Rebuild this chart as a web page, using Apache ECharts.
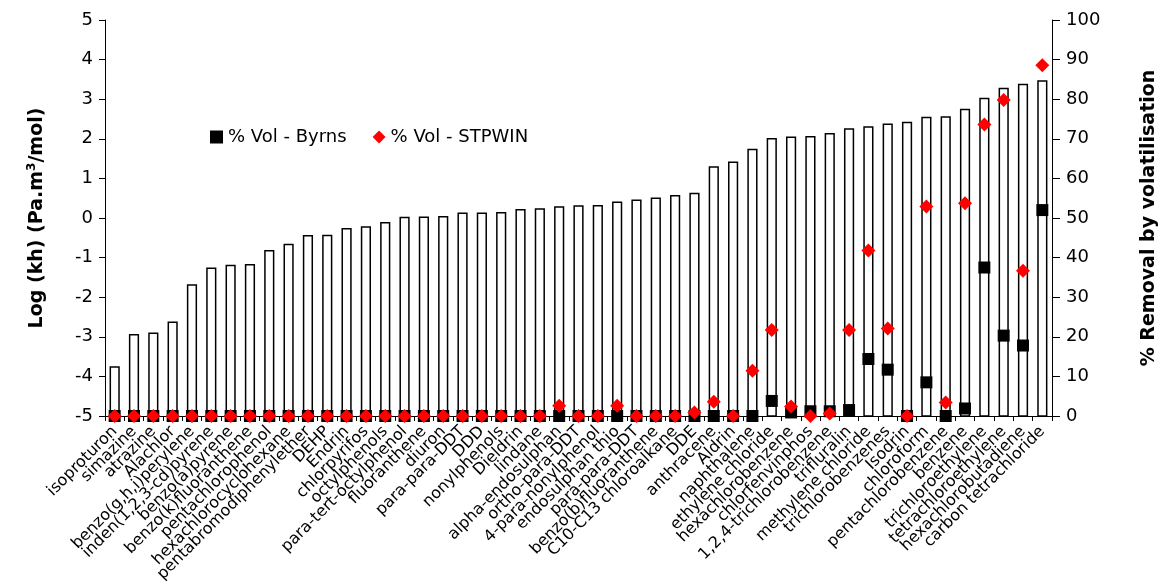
<!DOCTYPE html>
<html>
<head>
<meta charset="utf-8">
<script src="https://cdn.jsdelivr.net/npm/echarts@6/dist/echarts.min.js"></script>
<style>
  html, body { margin: 0; padding: 0; background: #fff; }
  #chart { width: 1167px; height: 587px; }
</style>
</head>
<body>
<div id="chart"></div>
<script>
// Substances, ordered by Henry's law constant
const substances = [
  'isoproturon', 'simazine', 'atrazine', 'Alachlor', 'benzo(g,h,i)perylene',
  'inden(1,2,3-cd)pyrene', 'benzo(a)pyrene', 'benzo(k)fluoranthene', 'pentachlorophenol',
  'hexachlorocyclohexane', 'pentabromodiphenylether', 'DEHP', 'Endrin', 'chlorpyrifos',
  'octylphenols', 'para-tert-octylphenol', 'fluoranthene', 'diuron', 'para-para-DDT',
  'DDD', 'nonylphenols', 'Dieldrin', 'lindane', 'alpha-endosulphan', 'ortho-para-DDT',
  '4-para-nonylphenol', 'endosulphan thio', 'para-para-DDT', 'benzo(b)fluoranthene',
  'C10-C13 chloroalkane', 'DDE', 'anthracene', 'Aldrin', 'naphthalene',
  'ethylene chloride', 'hexachlorobenzene', 'chlorfenvinphos', '1,2,4-trichlorobenzene',
  'trifluralin', 'methylene chloride', 'trichlorobenzenes', 'Isodrin', 'chloroform',
  'pentachlorobenzene', 'benzene', 'trichloroethylene', 'tetrachloroethylene',
  'hexachlorobutadiene', 'carbon tetrachloride'
];

// Log (kh) in Pa.m3/mol
const logKh = [
  -3.76, -2.95, -2.91, -2.63, -1.69, -1.27, -1.20, -1.18, -0.83, -0.67,
  -0.45, -0.44, -0.27, -0.23, -0.12, 0.01, 0.02, 0.03, 0.12, 0.12,
  0.13, 0.21, 0.23, 0.28, 0.30, 0.31, 0.40, 0.45, 0.50, 0.56,
  0.62, 1.29, 1.41, 1.73, 2.00, 2.04, 2.05, 2.13, 2.25, 2.30,
  2.37, 2.41, 2.54, 2.55, 2.74, 3.02, 3.27, 3.37, 3.46
];

// % removal by volatilisation, Byrns model
const volByrns = [
  0, 0, 0, 0, 0, 0, 0, 0, 0, 0,
  0, 0, 0, 0, 0, 0, 0, 0, 0, 0,
  0, 0, 0, 0, 0, 0, 0, 0, 0, 0,
  0, 0, 0, 0, 3.8, 0.9, 1.2, 1.2, 1.5, 14.4,
  11.7, 0, 8.5, 0, 1.9, 37.5, 20.3, 17.8, 52.0
];

// % removal by volatilisation, STPWIN model
const volStpwin = [
  0, 0, 0, 0, 0, 0, 0, 0, 0, 0,
  0, 0, 0, 0, 0, 0, 0, 0, 0, 0,
  0, 0, 0, 2.6, 0, 0, 2.6, 0, 0, 0,
  0.9, 3.6, 0, 11.4, 21.7, 2.4, 0, 0.6, 21.7, 41.8,
  22.1, 0, 52.9, 3.4, 53.7, 73.6, 79.8, 36.7, 88.6
];

// Left axis scale
const LOG_MIN = -5, LOG_MAX = 5, LOG_STEP = 1;
// Right axis scale
const PCT_MIN = 0, PCT_MAX = 100, PCT_STEP = 10;

const FONT = 'DejaVu Sans';

const chart = echarts.init(document.getElementById('chart'), null, { renderer: 'canvas' });

chart.setOption({
  animation: false,
  backgroundColor: '#ffffff',
  textStyle: { fontFamily: FONT, color: '#000' },
  grid: { left: 105, right: 114, top: 20, bottom: 171, containLabel: false },
  legend: {
    left: 205,
    top: 123,
    itemWidth: 13,
    itemHeight: 13,
    itemGap: 26,
    textStyle: { fontFamily: FONT, fontSize: 18, color: '#000' },
    data: [
      { name: '% Vol - Byrns', icon: 'rect' },
      { name: '% Vol - STPWIN', icon: 'diamond' }
    ]
  },
  xAxis: {
    type: 'category',
    data: substances,
    boundaryGap: true,
    axisLine: { show: true, onZero: false, lineStyle: { color: '#000', width: 1 } },
    axisTick: { show: true, alignWithLabel: false, length: 5, lineStyle: { color: '#000' } },
    axisLabel: {
      interval: 0,
      rotate: 45,
      margin: 13,
      fontFamily: FONT,
      fontSize: 16,
      color: '#000'
    },
    splitLine: { show: false }
  },
  yAxis: [
    {
      type: 'value',
      min: LOG_MIN,
      max: LOG_MAX,
      interval: LOG_STEP,
      position: 'left',
      name: '{t|Log (kh) (Pa.m}{s|3}{t|/mol)}',
      nameLocation: 'middle',
      nameGap: 56,
      nameRotate: 90,
      nameTextStyle: {
        rich: {
          t: { fontFamily: FONT, fontSize: 19, fontWeight: 'bold', color: '#000', lineHeight: 23 },
          s: { fontFamily: FONT, fontSize: 12, fontWeight: 'bold', color: '#000', verticalAlign: 'top', lineHeight: 23 }
        }
      },
      axisLine: { show: true, lineStyle: { color: '#000', width: 1 } },
      axisTick: { show: true, inside: false, length: 6, lineStyle: { color: '#000' } },
      axisLabel: { fontFamily: FONT, fontSize: 18, color: '#000', margin: 12 },
      splitLine: { show: false }
    },
    {
      type: 'value',
      min: PCT_MIN,
      max: PCT_MAX,
      interval: PCT_STEP,
      position: 'right',
      name: '% Removal by volatilisation',
      nameLocation: 'middle',
      nameGap: 88,
      nameRotate: 90,
      nameTextStyle: { fontFamily: FONT, fontSize: 19, fontWeight: 'bold', color: '#000' },
      axisLine: { show: true, lineStyle: { color: '#000', width: 1 } },
      axisTick: { show: true, inside: false, length: 8, lineStyle: { color: '#000' } },
      axisLabel: { fontFamily: FONT, fontSize: 18, color: '#000', margin: 14 },
      splitLine: { show: false }
    }
  ],
  series: [
    {
      // hollow columns rising from the bottom of the log(kh) axis
      name: 'Log (kh)',
      type: 'custom',
      yAxisIndex: 0,
      data: logKh.map((v, i) => [i, v]),
      renderItem: function (params, api) {
        const top = api.coord([api.value(0), api.value(1)]);
        const base = api.coord([api.value(0), LOG_MIN]);
        const w = api.size([1, 0])[0] * 0.45;
        return {
          type: 'rect',
          shape: { x: top[0] - w / 2, y: top[1], width: w, height: base[1] - top[1] },
          style: { fill: '#ffffff', stroke: '#000000', lineWidth: 1.5 }
        };
      },
      z: 1
    },
    {
      name: '% Vol - Byrns',
      type: 'scatter',
      yAxisIndex: 1,
      symbol: 'rect',
      symbolSize: 12,
      itemStyle: { color: '#000000', opacity: 1 },
      data: volByrns,
      z: 3
    },
    {
      name: '% Vol - STPWIN',
      type: 'scatter',
      yAxisIndex: 1,
      symbol: 'diamond',
      symbolSize: [14, 14],
      itemStyle: { color: '#ff0000', opacity: 1 },
      data: volStpwin,
      z: 4
    }
  ]
});
</script>
</body>
</html>
